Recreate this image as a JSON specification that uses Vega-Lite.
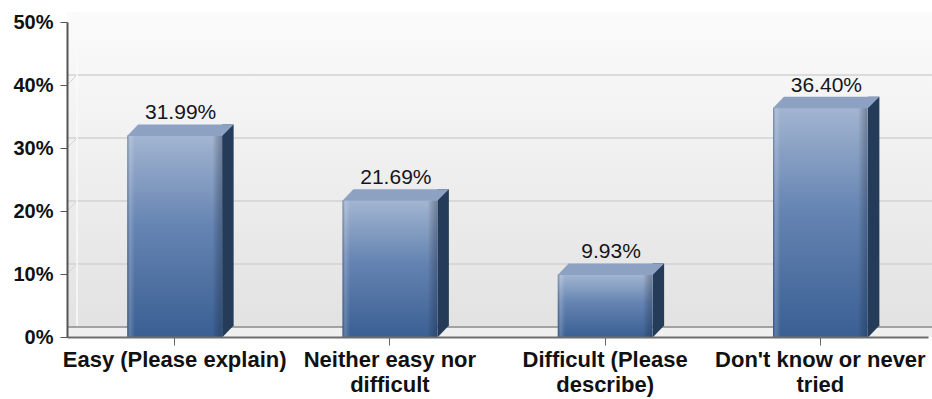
{
  "$schema": "https://vega.github.io/schema/vega-lite/v6.json",
  "autosize": {"type": "none"},
  "padding": {"left": 67, "top": 22, "right": 4, "bottom": 62},
  "width": 861,
  "height": 315,
  "background": "#ffffff",
  "config": {
    "view": {"stroke": null},
    "font": "Liberation Sans"
  },
  "datasets": {
    "answers": [
      {"answer": "Easy (Please explain)", "share": 0.3199},
      {"answer": "Neither easy nor difficult", "share": 0.2169},
      {"answer": "Difficult (Please describe)", "share": 0.0993},
      {"answer": "Don't know or never tried", "share": 0.3640}
    ],
    "gridlines": [
      {"t": 0}, {"t": 0.1}, {"t": 0.2}, {"t": 0.3}, {"t": 0.4}
    ],
    "single": [{}]
  },
  "layer": [
    {
      "data": {"name": "single"},
      "mark": {
        "type": "rect",
        "yOffset": -10,
        "y2Offset": -10,
        "x2Offset": 10,
        "fill": {
          "gradient": "linear",
          "x1": 0, "y1": 0, "x2": 0, "y2": 1,
          "stops": [
            {"offset": 0, "color": "#fbfbfb"},
            {"offset": 1, "color": "#e2e2e2"}
          ]
        }
      },
      "encoding": {
        "x": {"value": 0},
        "x2": {"value": "width"},
        "y": {
          "datum": 0.5,
          "type": "quantitative",
          "scale": {"domain": [0, 0.5], "nice": false},
          "axis": {
            "title": null,
            "values": [0, 0.1, 0.2, 0.3, 0.4, 0.5],
            "format": ".0%",
            "grid": false,
            "labelFont": "Liberation Sans",
            "labelFontWeight": "bold",
            "labelFontSize": 20,
            "labelColor": "#111111",
            "labelPadding": 7,
            "tickSize": 7,
            "tickColor": "#555555",
            "domainColor": "#555555",
            "domainWidth": 2,
            "zindex": 1
          }
        },
        "y2": {"datum": 0}
      }
    },
    {
      "data": {"name": "gridlines"},
      "mark": {"type": "rule", "x2Offset": 10, "y2Offset": -10, "stroke": "#d2d2d2", "strokeWidth": 1},
      "encoding": {
        "x": {"value": 0},
        "x2": {"value": 0},
        "y": {"field": "t", "type": "quantitative"},
        "y2": {"field": "t"}
      }
    },
    {
      "data": {"name": "gridlines"},
      "mark": {"type": "rule", "xOffset": 10, "x2Offset": 10, "yOffset": -10, "stroke": "#d2d2d2", "strokeWidth": 1.5},
      "encoding": {
        "y": {"field": "t", "type": "quantitative"}
      }
    },
    {
      "data": {"name": "single"},
      "mark": {"type": "rule", "xOffset": 10, "yOffset": -10, "y2Offset": -10, "stroke": "#fafafa", "strokeWidth": 1.5},
      "encoding": {
        "x": {"value": 0},
        "y": {"datum": 0.5, "type": "quantitative"},
        "y2": {"datum": 0}
      }
    },
    {
      "data": {"name": "single"},
      "mark": {"type": "rect", "yOffset": -10, "x2Offset": 10, "fill": "#efefef"},
      "encoding": {
        "x": {"value": 0},
        "x2": {"value": "width"},
        "y": {"datum": 0, "type": "quantitative"},
        "y2": {"datum": 0}
      }
    },
    {
      "data": {"name": "single"},
      "mark": {"type": "rule", "xOffset": 10, "x2Offset": 10, "yOffset": -10, "stroke": "#a2a2a2", "strokeWidth": 2},
      "encoding": {
        "y": {"datum": 0, "type": "quantitative"}
      }
    },
    {
      "data": {"name": "answers"},
      "encoding": {
        "x": {
          "field": "answer",
          "type": "nominal",
          "sort": null,
          "scale": {"paddingInner": 0.56, "paddingOuter": 0.28},
          "axis": {
            "title": null,
            "labelAngle": 0,
            "labelFont": "Liberation Sans",
            "labelFontWeight": "bold",
            "labelFontSize": 22,
            "labelColor": "#111111",
            "labelLimit": 320,
            "labelLineHeight": 25,
            "labelPadding": 4,
            "labelOverlap": false,
            "labelExpr": "datum.value == 'Neither easy nor difficult' ? ['Neither easy nor', 'difficult'] : datum.value == 'Difficult (Please describe)' ? ['Difficult (Please', 'describe)'] : datum.value == \"Don't know or never tried\" ? [\"Don't know or never\", 'tried'] : datum.value",
            "tickSize": 8,
            "tickColor": "#666666",
            "domainColor": "#6e6e6e",
            "domainWidth": 2,
            "zindex": 1
          }
        }
      },
      "layer": [
        {
          "mark": {"type": "bar", "width": 11.5, "xOffset": 53.25, "yOffset": -11, "y2Offset": -11, "fill": "#253b5a", "stroke": null},
          "encoding": {
            "y": {"field": "share", "type": "quantitative"},
            "y2": {"datum": 0}
          }
        },
        {
          "mark": {"type": "point", "shape": "M47.5,-11.5L59,-11.5L47.5,0.5Z", "size": 4, "filled": true, "fill": "#253b5a", "strokeWidth": 0, "opacity": 1},
          "encoding": {
            "y": {"datum": 0, "type": "quantitative"}
          }
        },
        {
          "mark": {
            "type": "bar",
            "stroke": null,
            "fill": {
              "gradient": "linear",
              "x1": 0, "y1": 0, "x2": 0, "y2": 1,
              "stops": [
                {"offset": 0, "color": "#a3b5d1"},
                {"offset": 0.45, "color": "#6584b2"},
                {"offset": 1, "color": "#3a5f93"}
              ]
            }
          },
          "encoding": {
            "y": {"field": "share", "type": "quantitative"},
            "y2": {"datum": 0}
          }
        },
        {
          "mark": {
            "type": "bar",
            "stroke": null,
            "fill": {
              "gradient": "linear",
              "x1": 0, "y1": 0, "x2": 1, "y2": 0,
              "stops": [
                {"offset": 0, "color": "rgba(20,35,60,0.35)"},
                {"offset": 0.03, "color": "rgba(255,255,255,0.18)"},
                {"offset": 0.08, "color": "rgba(255,255,255,0)"},
                {"offset": 0.9, "color": "rgba(0,0,0,0)"},
                {"offset": 1, "color": "rgba(20,35,60,0.35)"}
              ]
            }
          },
          "encoding": {
            "y": {"field": "share", "type": "quantitative"},
            "y2": {"datum": 0}
          }
        },
        {
          "mark": {"type": "point", "shape": "M-47.5,0.5L-36.5,-11L59,-11L47.5,0.5Z", "size": 4, "filled": true, "fill": "#8da2c2", "strokeWidth": 0, "opacity": 1},
          "encoding": {
            "y": {"field": "share", "type": "quantitative"}
          }
        },
        {
          "mark": {"type": "text", "font": "Liberation Sans", "fontSize": 21, "fontWeight": "normal", "color": "#151520", "dx": 6, "dy": -16, "baseline": "alphabetic", "align": "center"},
          "encoding": {
            "y": {"field": "share", "type": "quantitative"},
            "text": {"field": "share", "type": "quantitative", "format": ".2%"}
          }
        }
      ]
    }
  ]
}
